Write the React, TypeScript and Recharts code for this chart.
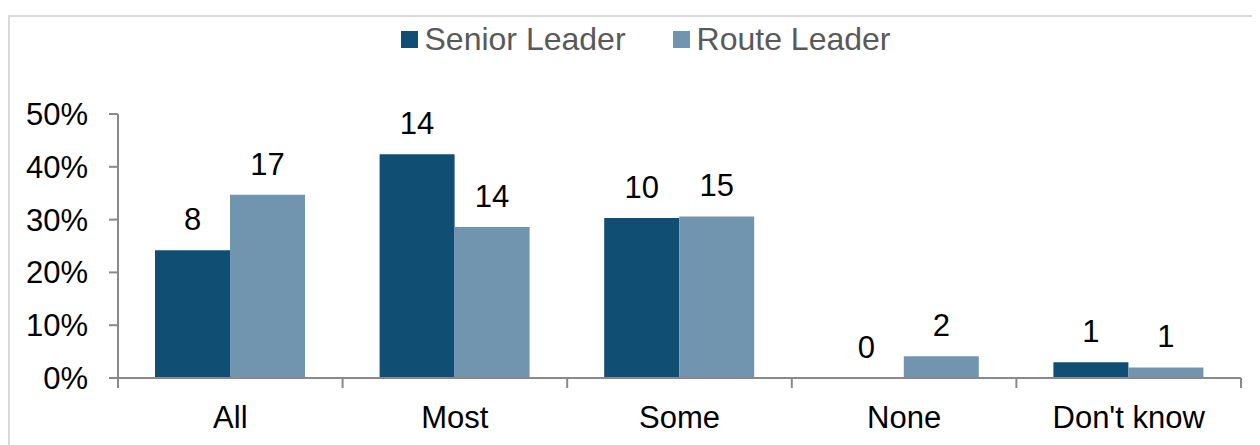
import React from "react";
import { BarChart, Bar, XAxis, YAxis, LabelList } from "recharts";

const categories = ["All", "Most", "Some", "None", "Don't know"];
const seniorPct = [24.2, 42.4, 30.3, 0, 3.0];
const routePct = [34.7, 28.6, 30.6, 4.1, 2.0];
const seniorCount = [8, 14, 10, 0, 1];
const routeCount = [17, 14, 15, 2, 1];
const yTicks = [0, 10, 20, 30, 40, 50];

const data = categories.map((name, i) => ({
  name,
  senior: seniorPct[i],
  route: routePct[i],
  seniorN: String(seniorCount[i]),
  routeN: String(routeCount[i]),
}));

const W = 1252;
const H = 437;
const M = { top: 106, right: 19, bottom: 17, left: 10 };
const Y_W = 100;
const PLOT_W = W - M.left - M.right - Y_W;
const FONT = "'Liberation Sans', Arial, sans-serif";
const AXIS = "#898989";
const SENIOR = "#114e74";
const ROUTE = "#7195ae";

const XTick = (props: any) => {
  const { x, y, payload, index } = props;
  const half = PLOT_W / categories.length / 2;
  return (
    <g>
      <line x1={x - half} x2={x - half} y1={y} y2={y + 10} stroke={AXIS} strokeWidth={2} />
      {index === categories.length - 1 && (
        <line x1={x + half} x2={x + half} y1={y} y2={y + 10} stroke={AXIS} strokeWidth={2} />
      )}
      <text x={x} y={y + 28} dy="0.71em" textAnchor="middle" fill="#000" fontSize={31} fontFamily={FONT}>
        {payload.value}
      </text>
    </g>
  );
};

const TopLabel = (props: any) => {
  const { x, y, width, value } = props;
  return (
    <text x={x + width / 2} y={y - 20} textAnchor="middle" fill="#000" fontSize={31} fontFamily={FONT}>
      {value}
    </text>
  );
};

// keep zero bars in the layout (invisibly thin) so their "0" label is drawn
const keepZero = (v: number) => (v === 0 ? 0.01 : 0);

const legendItems = [
  { label: "Senior Leader", color: SENIOR },
  { label: "Route Leader", color: ROUTE },
];

export default function App() {
  return (
    <div style={{ position: "relative", width: W, height: H, overflow: "hidden" }}>
      <div
        style={{
          position: "absolute",
          left: 0,
          top: 7,
          width: 1300,
          height: 500,
          border: "2px solid #d9d9d9",
          boxSizing: "border-box",
        }}
      />
      <div style={{ position: "absolute", left: 0, top: 0 }}>
        <BarChart width={W} height={H} data={data} margin={M} barSize={75} barGap={0}>
          <XAxis
            dataKey="name"
            interval={0}
            axisLine={{ stroke: AXIS, strokeWidth: 2 }}
            tickLine={false}
            tickSize={0}
            tickMargin={0}
            height={50}
            tick={<XTick />}
          />
          <YAxis
            width={Y_W}
            domain={[0, 50]}
            ticks={yTicks}
            tickFormatter={(v: number) => `${v}%`}
            axisLine={{ stroke: AXIS, strokeWidth: 2 }}
            tickLine={{ stroke: AXIS, strokeWidth: 2 }}
            tickSize={9}
            tickMargin={21}
            tick={{ fill: "#000", fontSize: 31, fontFamily: FONT }}
          />
          <Bar dataKey="senior" fill={SENIOR} minPointSize={keepZero} isAnimationActive={false}>
            <LabelList dataKey="seniorN" content={<TopLabel />} />
          </Bar>
          <Bar dataKey="route" fill={ROUTE} minPointSize={keepZero} isAnimationActive={false}>
            <LabelList dataKey="routeN" content={<TopLabel />} />
          </Bar>
        </BarChart>
      </div>
      <div
        style={{
          position: "absolute",
          top: 16,
          left: 0,
          width: W,
          display: "flex",
          justifyContent: "center",
          paddingLeft: 23,
          boxSizing: "border-box",
          fontFamily: FONT,
          fontSize: 32,
          lineHeight: "31px",
          color: "#595959",
        }}
      >
        {legendItems.map((it, i) => (
          <div key={it.label} style={{ display: "flex", alignItems: "center", marginLeft: i ? 47 : 0 }}>
            <span style={{ width: 17, height: 17, background: it.color, marginRight: 7, display: "inline-block" }} />
            <span>{it.label}</span>
          </div>
        ))}
      </div>
    </div>
  );
}
